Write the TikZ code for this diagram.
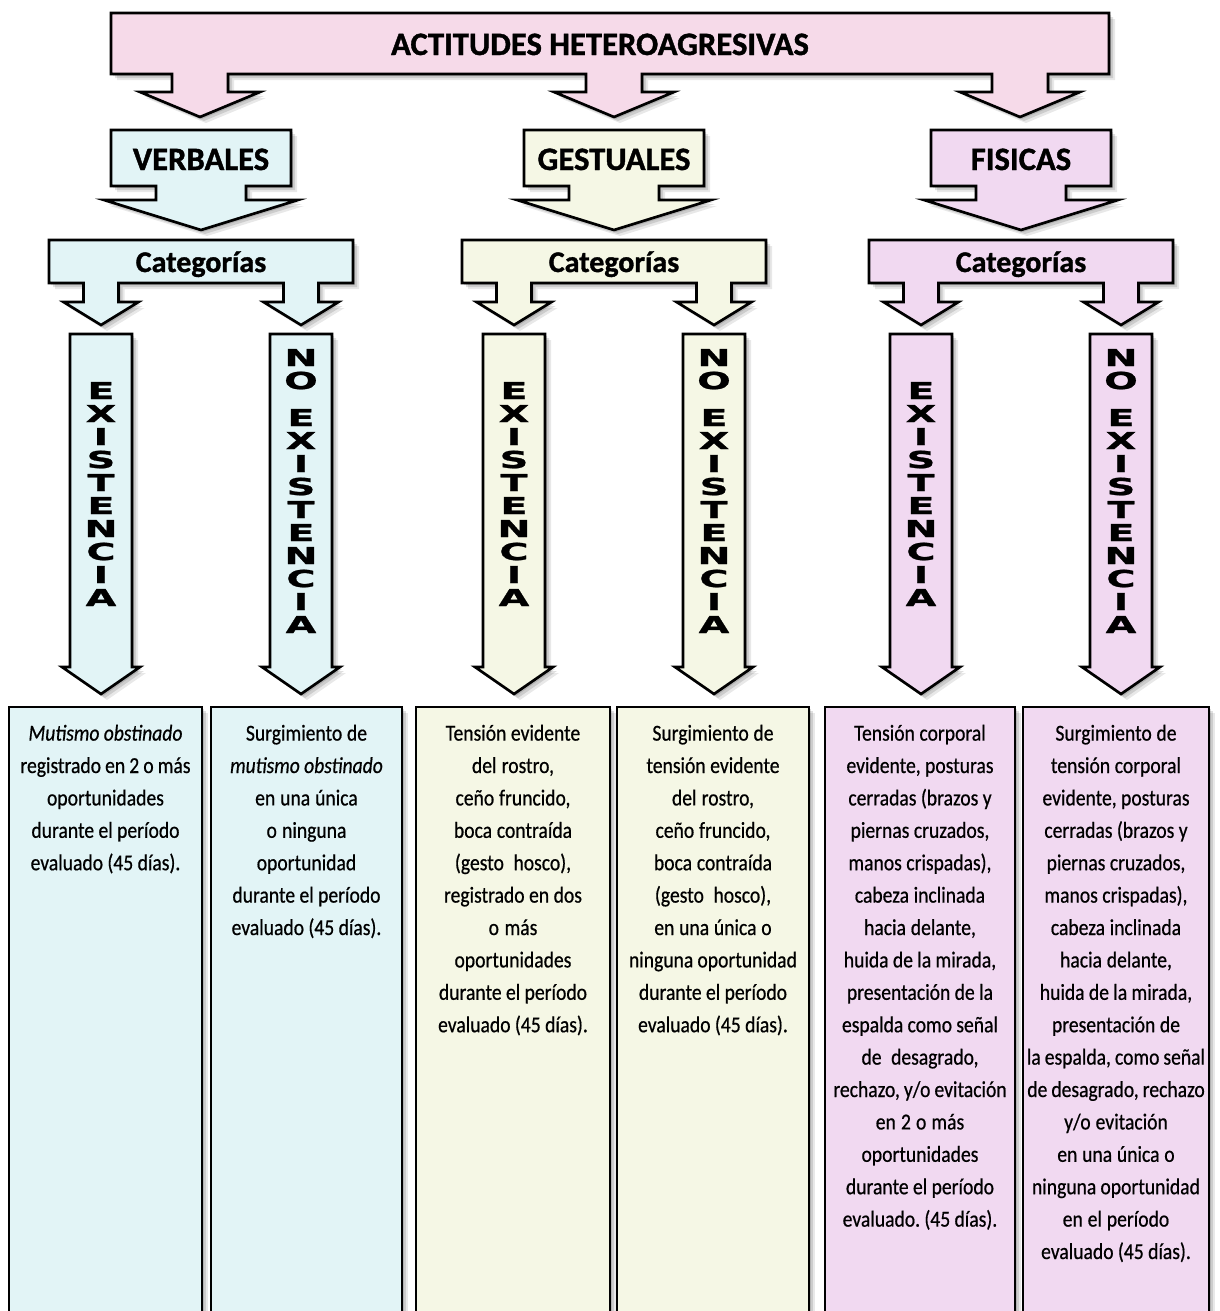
\documentclass[tikz,border=0pt]{standalone}
\usepackage{fontspec}
\setmainfont{Carlito}
\newfontfamily\bodyf{Carlito}[FakeStretch=0.86, FakeBold=0.6]
\newfontfamily\headf{Carlito}[BoldFeatures={FakeBold=1.2}]
\newfontfamily\vletters{DejaVu Sans}[FakeStretch=1.7, BoldFeatures={FakeBold=1.2}]
\usetikzlibrary{shadows}
\definecolor{toppink}{HTML}{F6DAE9}
\definecolor{vcyan}{HTML}{E2F4F6}
\definecolor{gcream}{HTML}{F5F7E5}
\definecolor{flav}{HTML}{F1D9F1}
\newcommand{\tightsp}{\frenchspacing\spaceskip=0.17em plus 0.05em minus 0.02em\relax}
\tikzset{
  softshadow/.style={
    drop shadow={shadow xshift=1.5pt,shadow yshift=-1.5pt,fill=black,opacity=.13},
    drop shadow={shadow xshift=3pt,shadow yshift=-3pt,fill=black,opacity=.12},
    drop shadow={shadow xshift=4.5pt,shadow yshift=-4.5pt,fill=black,opacity=.09}},
  blk/.style={draw=black, line width=2pt, line join=miter, softshadow},
  tbox/.style={draw=black, line width=2.2pt, softshadow},
  headtxt/.style={inner sep=0pt, anchor=base, font=\headf\fontsize{24.5pt}{26pt}\selectfont\bfseries},
  cattxt/.style={inner sep=0pt, anchor=base, font=\headf\fontsize{22.5pt}{26pt}\selectfont\bfseries},
  vtxt/.style={inner sep=0pt, align=center, font=\vletters\bfseries\fontsize{17.5pt}{17.25pt}\selectfont},
  bodytxt/.style={inner sep=0pt, anchor=north, align=center, text width=142pt,
    font=\bodyf\fontsize{17.1pt}{24.3pt}\selectfont, execute at begin node=\tightsp}
}
\newcommand{\fl}{\rule{0pt}{16pt}}
\begin{document}
\begin{tikzpicture}[x=0.75pt,y=-0.75pt]
\useasboundingbox (0,0) rectangle (1220,1311);
\clip (0,0) rectangle (1220,1311);

% top block with three arrows
\draw[blk, fill=toppink] (111,13) -- (1109,13) -- (1109,74)
  -- (1048,74) -- (1048,92) -- (1080,92) -- (1020,117) -- (960,92) -- (992,92) -- (992,74)
  -- (642,74) -- (642,92) -- (674,92) -- (614,117) -- (554,92) -- (586,92) -- (586,74)
  -- (228,74) -- (228,92) -- (260,92) -- (200,117) -- (140,92) -- (172,92) -- (172,74)
  -- (111,74) -- cycle;
\node[headtxt] (title) at (600,55) {ACTITUDES HETEROAGRESIVAS};

\foreach \c/\col/\nm/\lab in {201/vcyan/v/VERBALES, 614/gcream/g/GESTUALES, 1021/flav/f/FISICAS}{
  % group box
  \draw[blk, fill=\col] ({\c-90},130) -- ({\c+90},130) -- ({\c+90},186) -- ({\c+45},186)
    -- ({\c+45},200) -- ({\c+97},200) -- (\c,230) -- ({\c-97},200) -- ({\c-45},200)
    -- ({\c-45},186) -- ({\c-90},186) -- cycle;
  \node[headtxt] (\nm-head) at (\c,170) {\lab};
  % categories box
  \draw[blk, fill=\col] ({\c-152},240) -- ({\c+152},240) -- ({\c+152},283)
    -- ({\c+117.5},283) -- ({\c+117.5},302) -- ({\c+137.5},302) -- ({\c+100},325)
    -- ({\c+62.5},302) -- ({\c+82.5},302) -- ({\c+82.5},283)
    -- ({\c-82.5},283) -- ({\c-82.5},302) -- ({\c-62.5},302) -- ({\c-100},325)
    -- ({\c-137.5},302) -- ({\c-117.5},302) -- ({\c-117.5},283)
    -- ({\c-152},283) -- cycle;
  \node[cattxt] (\nm-cat) at (\c,272) {Categorías};
  % vertical arrows
  \foreach \v in {\c-100,\c+100}{
    \draw[blk, fill=\col] ({\v-31},334) -- ({\v+31},334) -- ({\v+31},667) -- ({\v+39},667)
      -- (\v,694) -- ({\v-39},667) -- ({\v-31},667) -- cycle;
  }
  \node[vtxt] (\nm-ex) at ({\c-100},494) {E\\X\\I\\S\\T\\E\\N\\C\\I\\A};
  \node[vtxt] (\nm-noex) at ({\c+100},491) {N\\O\\[10.5pt]E\\X\\I\\S\\T\\E\\N\\C\\I\\A};
}

% text boxes
\draw[tbox, fill=vcyan] (9,707) rectangle (202,1330);
\draw[tbox, fill=vcyan] (211,707) rectangle (402,1330);
\draw[tbox, fill=gcream] (416,707) rectangle (610,1330);
\draw[tbox, fill=gcream] (617,707) rectangle (809,1330);
\draw[tbox, fill=flav] (825,707) rectangle (1015,1330);
\draw[tbox, fill=flav] (1023,707) rectangle (1209,1330);

\node[bodytxt] (t1) at (105.5,719) {\fl\textit{Mutismo obstinado}\\registrado en 2 o más\\oportunidades\\durante el período\\evaluado (45 días).};
\node[bodytxt] (t2) at (306.5,719) {\fl Surgimiento de\\\textit{mutismo obstinado}\\en una única\\o ninguna\\oportunidad\\durante el período\\evaluado (45 días).};
\node[bodytxt] (t3) at (513,719) {\fl Tensión evidente\\del rostro,\\ceño fruncido,\\boca contraída\\(gesto\ \ hosco),\\registrado en dos\\o más\\oportunidades\\durante el período\\evaluado (45 días).};
\node[bodytxt] (t4) at (713,719) {\fl Surgimiento de\\tensión evidente\\del rostro,\\ceño fruncido,\\boca contraída\\(gesto\ \ hosco),\\en una única o\\ninguna oportunidad\\durante el período\\evaluado (45 días).};
\node[bodytxt] (t5) at (920,719) {\fl Tensión corporal\\evidente, posturas\\cerradas (brazos y\\piernas cruzados,\\manos crispadas),\\cabeza inclinada\\hacia delante,\\huida de la mirada,\\presentación de la\\espalda como señal\\de\ \ desagrado,\\rechazo, y/o evitación\\en 2 o más\\oportunidades\\durante el período\\evaluado. (45 días).};
\node[bodytxt] (t6) at (1116,719) {\fl Surgimiento de\\tensión corporal\\evidente, posturas\\cerradas (brazos y\\piernas cruzados,\\manos crispadas),\\cabeza inclinada\\hacia delante,\\huida de la mirada,\\presentación de\\la espalda, como señal\\de desagrado, rechazo\\y/o evitación\\en una única o\\ninguna oportunidad\\en el período\\evaluado (45 días).};
\end{tikzpicture}
\end{document}
